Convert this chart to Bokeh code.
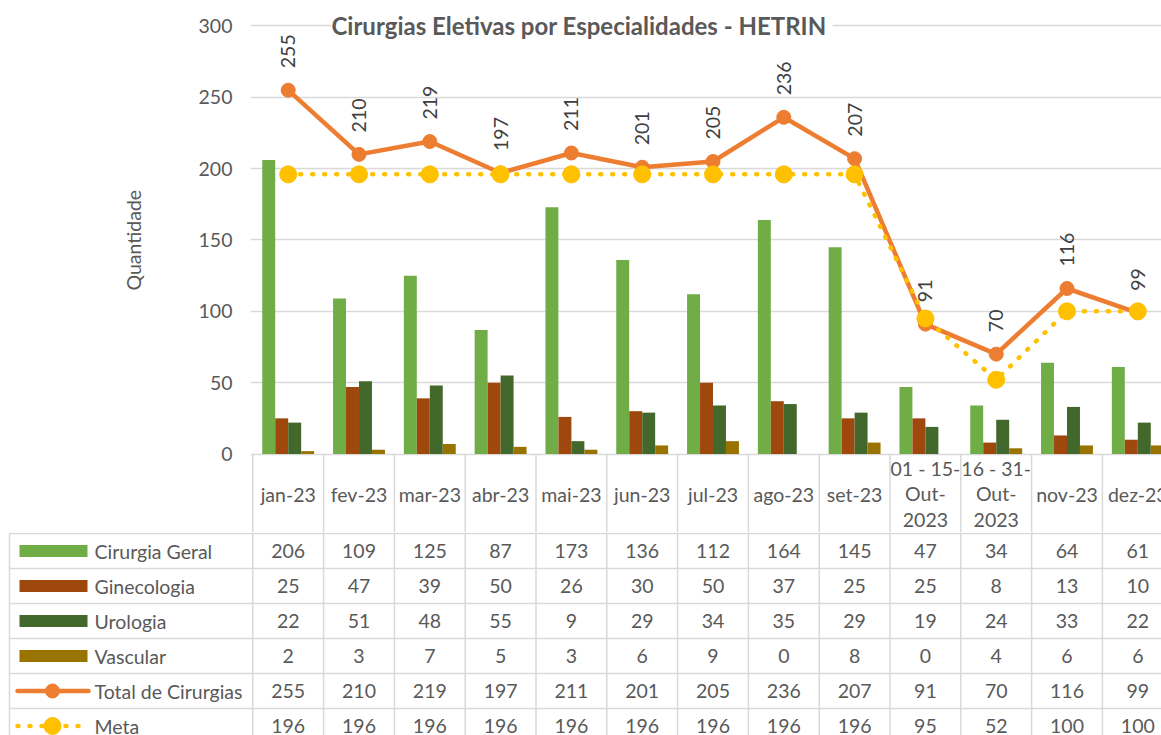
import math
from bokeh.plotting import figure
from bokeh.layouts import column
from bokeh.models import Range1d, FixedTicker, Label, Title
from bokeh.core.properties import value
from bokeh.embed import file_html
from bokeh.resources import INLINE

# ---------------- data ----------------
categories = ["jan-23", "fev-23", "mar-23", "abr-23", "mai-23", "jun-23", "jul-23",
              "ago-23", "set-23", "01 - 15-\nOut-\n2023", "16 - 31-\nOut-\n2023",
              "nov-23", "dez-23"]
cirurgia_geral = [206, 109, 125, 87, 173, 136, 112, 164, 145, 47, 34, 64, 61]
ginecologia = [25, 47, 39, 50, 26, 30, 50, 37, 25, 25, 8, 13, 10]
urologia = [22, 51, 48, 55, 9, 29, 34, 35, 29, 19, 24, 33, 22]
vascular = [2, 3, 7, 5, 3, 6, 9, 0, 8, 0, 4, 6, 6]
total_cirurgias = [255, 210, 219, 197, 211, 201, 205, 236, 207, 91, 70, 116, 99]
meta = [196, 196, 196, 196, 196, 196, 196, 196, 196, 95, 52, 100, 100]
series_names = ["Cirurgia Geral", "Ginecologia", "Urologia", "Vascular",
                "Total de Cirurgias", "Meta"]
y_ticks = [0, 50, 100, 150, 200, 250, 300]
title_text = "Cirurgias Eletivas por Especialidades  - HETRIN"
y_label = "Quantidade"

# ---------------- style ----------------
FONT = value("Lato")
FS = "19.5px"
TXT = "#595959"
LBL = "#404040"
GRID = "#D9D9D9"
C_GERAL, C_GINE, C_URO, C_VASC = "#70AD47", "#9E480E", "#43682B", "#997300"
C_TOTAL, C_META = "#ED7D31", "#FFC000"

n = len(categories)
xs = list(range(n))

# ---------------- layout geometry (pixels) ----------------
W = 1161
CAT_PX = 70.8
X0_PX = 252.3            # x of category boundary -0.5
FRAME_LEFT = 250
Y_PX = 1.4267            # px per unit
ZERO_PX = 453.5          # y of value 0
H1 = 532
H2 = 203
ROW = 35.0

x_end = -0.5 + (W - X0_PX) / CAT_PX
x_start_chart = -0.5 - (X0_PX - FRAME_LEFT) / CAT_PX
x_start_table = -0.5 - X0_PX / CAT_PX

def px2x(px):
    return -0.5 + (px - X0_PX) / CAT_PX

# ---------------- chart figure ----------------
p = figure(width=W, height=H1, output_backend="svg", toolbar_location=None,
           x_range=Range1d(x_start_chart, x_end),
           y_range=Range1d(-(H1 - ZERO_PX) / Y_PX, ZERO_PX / Y_PX),
           min_border_left=FRAME_LEFT, min_border_right=0,
           min_border_top=0, min_border_bottom=0)
p.frame_align = False
p.outline_line_color = None
p.xaxis.visible = False
p.xgrid.visible = False
p.yaxis.ticker = FixedTicker(ticks=y_ticks)
p.ygrid.ticker = FixedTicker(ticks=y_ticks)
p.ygrid.grid_line_color = GRID
p.ygrid.grid_line_width = 1.5
p.yaxis.axis_line_color = None
p.yaxis.major_tick_line_color = None
p.yaxis.minor_tick_line_color = None
p.yaxis.major_tick_out = 0
p.yaxis.major_label_standoff = 18
p.yaxis.major_label_text_font = "Lato"
p.yaxis.major_label_text_font_size = FS
p.yaxis.major_label_text_color = TXT

bw = 0.183
offs = [-0.275, -0.0917, 0.0917, 0.275]
for vals, col, off in zip([cirurgia_geral, ginecologia, urologia, vascular],
                          [C_GERAL, C_GINE, C_URO, C_VASC], offs):
    p.vbar(x=[x + off for x in xs], top=vals, width=bw, bottom=0,
           fill_color=col, line_color=None)

p.line(xs, total_cirurgias, line_color=C_TOTAL, line_width=4.5, line_join="round")
p.scatter(xs, total_cirurgias, size=14, fill_color=C_TOTAL, line_color=C_TOTAL)
p.line(xs, meta, line_color=C_META, line_width=4.5, line_dash="1 11", line_cap="round")
p.scatter(xs, meta, size=17, fill_color=C_META, line_color=C_META)

p.text(xs, total_cirurgias, text=[str(v) for v in total_cirurgias], angle=math.pi / 2,
       y_offset=-22, text_align="left", text_baseline="middle",
       text_font=FONT, text_font_size=FS, text_color=LBL)

# header row (categories)
hdr_bottom = -(H1 - ZERO_PX) / Y_PX
p.segment(x0=[k - 0.5 for k in range(n + 1)], y0=[0] * (n + 1),
          x1=[k - 0.5 for k in range(n + 1)], y1=[hdr_bottom] * (n + 1),
          line_color=GRID, line_width=1.5)
p.text(xs, [-(493.5 - ZERO_PX) / Y_PX] * n, text=categories, text_align="center",
       text_baseline="middle", text_font=FONT, text_font_size=FS, text_color=TXT,
       text_line_height=1.09)

p.add_layout(Label(x=px2x(581.5), y=300, text=title_text, text_align="center",
                   text_baseline="middle", text_font="Lato", text_font_size="24px",
                   text_font_style="bold", text_color=TXT,
                   background_fill_color="white"))
p.add_layout(Title(text=y_label, align="left", offset=242, vertical_align="middle",
                   standoff=100, text_font="Lato", text_font_size=FS,
                   text_font_style="normal", text_color=TXT), "left")

# ---------------- table figure ----------------
t = figure(width=W, height=H2, output_backend="svg", toolbar_location=None,
           x_range=Range1d(x_start_table, x_end),
           y_range=Range1d(-(H2 - 1) / ROW, 1 / ROW),
           min_border_left=0, min_border_right=0, min_border_top=0, min_border_bottom=0)
t.frame_align = False
t.outline_line_color = None
t.axis.visible = False
t.grid.visible = False

leg_left = px2x(9)
vx = [leg_left] + [k - 0.5 for k in range(n + 1)]
t.segment(x0=vx, y0=[1 / ROW] * len(vx), x1=vx, y1=[-(H2 + 5) / ROW] * len(vx),
          line_color=GRID, line_width=1.5)
t.segment(x0=[leg_left] * 7, y0=[-r for r in range(7)], x1=[x_end] * 7,
          y1=[-r for r in range(7)], line_color=GRID, line_width=1.5)

rows = [cirurgia_geral, ginecologia, urologia, vascular, total_cirurgias, meta]
for r, vals in enumerate(rows):
    t.text(xs, [-(r + 0.5)] * n, text=[str(v) for v in vals], text_align="center",
           text_baseline="middle", text_font=FONT, text_font_size=FS, text_color=TXT)

# legend column
sw_l, sw_r = px2x(19), px2x(87)
ln_l, ln_r, mk = px2x(17), px2x(88), px2x(52)
for r, col in enumerate([C_GERAL, C_GINE, C_URO, C_VASC]):
    t.rect(x=[(sw_l + sw_r) / 2], y=[-(r + 0.5)], width=sw_r - sw_l, height=12 / ROW,
           fill_color=col, line_color=None)
t.line([ln_l, ln_r], [-4.5, -4.5], line_color=C_TOTAL, line_width=4.5, line_cap="round")
t.scatter([mk], [-4.5], size=14, fill_color=C_TOTAL, line_color=C_TOTAL)
t.line([ln_l, ln_r], [-5.5, -5.5], line_color=C_META, line_width=4.5,
       line_dash="1 11", line_cap="round")
t.scatter([mk], [-5.5], size=17, fill_color=C_META, line_color=C_META)
t.text([px2x(94)] * 6, [-(r + 0.5) for r in range(6)], text=series_names,
       text_align="left", text_baseline="middle", text_font=FONT, text_font_size=FS,
       text_color=TXT)

layout = column(p, t, spacing=0)
open("out.html", "w").write(file_html(layout, INLINE))
